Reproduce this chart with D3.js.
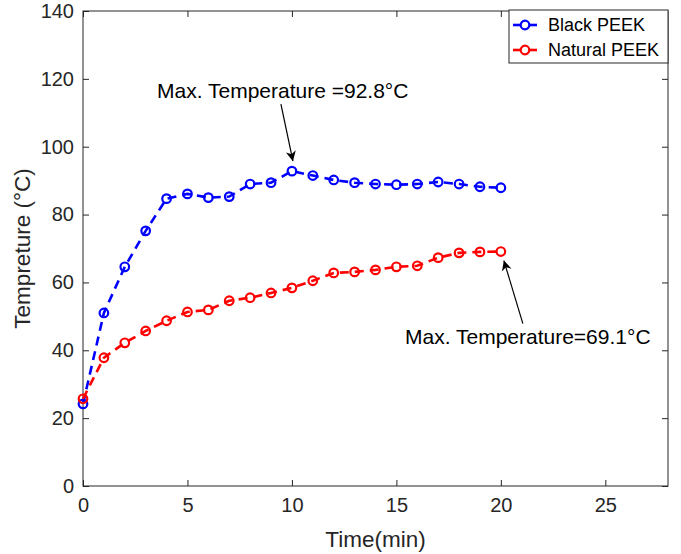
<!DOCTYPE html>
<html>
<head>
<meta charset="utf-8">
<script src="https://cdn.jsdelivr.net/npm/d3@7"></script>
<style>
  body { margin: 0; background: #fff; }
  svg { font-family: "Liberation Sans", Arial, sans-serif; }
</style>
</head>
<body>
<svg id="chart"></svg>
<script>
// Data
const time = [0, 1, 2, 3, 4, 5, 6, 7, 8, 9, 10, 11, 12, 13, 14, 15, 16, 17, 18, 19, 20];
const blackPeek = [24.2, 51.0, 64.6, 75.2, 84.7, 86.1, 85.0, 85.3, 89.0, 89.4, 92.8, 91.5, 90.2, 89.4, 89.0, 88.8, 89.0, 89.6, 89.0, 88.2, 87.9];
const naturalPeek = [25.7, 37.8, 42.2, 45.7, 48.7, 51.3, 51.9, 54.6, 55.5, 56.9, 58.4, 60.5, 62.8, 63.1, 63.7, 64.6, 64.9, 67.3, 68.7, 69.0, 69.1];
const xTicks = [0, 5, 10, 15, 20, 25];
const yTicks = [0, 20, 40, 60, 80, 100, 120, 140];
const seriesNames = ["Black PEEK", "Natural PEEK"];
const seriesColors = ["#0000ff", "#ff0000"];

// Configuration
const W = 681, H = 554;
const margin = { top: 11, right: 13, bottom: 68, left: 83 };
const width = W - margin.left - margin.right;
const height = H - margin.top - margin.bottom;
const axisColor = "#262626";

const svg = d3.select("#chart").attr("width", W).attr("height", H);

svg.append("defs").append("marker")
    .attr("id", "arrow")
    .attr("viewBox", "0 0 10 10")
    .attr("refX", 10).attr("refY", 5)
    .attr("markerWidth", 10).attr("markerHeight", 12)
    .attr("markerUnits", "userSpaceOnUse")
    .attr("orient", "auto")
    .append("path")
    .attr("d", "M0,0 L10,5 L0,10 L3,5 Z")
    .attr("fill", "#000");

const g = svg.append("g").attr("transform", `translate(${margin.left},${margin.top})`);

// Scales
const x = d3.scaleLinear().domain([0, 28]).range([0, width]);
const y = d3.scaleLinear().domain([0, 140]).range([height, 0]);

// Axes (box with inward ticks)
function styleAxis(sel) {
    sel.select(".domain").remove();
    sel.selectAll("line").attr("stroke", axisColor);
    sel.selectAll("text").attr("fill", axisColor).style("font-size", "20px");
}

g.append("g")
    .attr("transform", `translate(0,${height})`)
    .call(d3.axisBottom(x).tickValues(xTicks).tickSize(-6).tickPadding(12))
    .call(styleAxis);
g.append("g")
    .call(d3.axisTop(x).tickValues(xTicks).tickSize(-6).tickFormat(""))
    .call(styleAxis);
g.append("g")
    .call(d3.axisLeft(y).tickValues(yTicks).tickSize(-6).tickPadding(9))
    .call(styleAxis);
g.append("g")
    .attr("transform", `translate(${width},0)`)
    .call(d3.axisRight(y).tickValues(yTicks).tickSize(-6).tickFormat(""))
    .call(styleAxis);

g.append("rect")
    .attr("width", width).attr("height", height)
    .attr("fill", "none").attr("stroke", axisColor).attr("stroke-width", 1);

// Axis labels
g.append("text")
    .attr("x", x(14)).attr("y", height + 61)
    .attr("text-anchor", "middle")
    .attr("fill", axisColor)
    .style("font-size", "22.5px")
    .text("Time(min)");

g.append("text")
    .attr("transform", `translate(${-53},${height / 2}) rotate(-90)`)
    .attr("text-anchor", "middle")
    .attr("fill", axisColor)
    .style("font-size", "22.5px")
    .text("Tempreture (°C)");

// Lines
const series = [blackPeek, naturalPeek];
const line = d3.line().x((d, i) => x(time[i])).y(d => y(d));

series.forEach((vals, k) => {
    g.append("path")
        .datum(vals)
        .attr("d", line)
        .attr("fill", "none")
        .attr("stroke", seriesColors[k])
        .attr("stroke-width", 2.6)
        .attr("stroke-dasharray", "9,6");
    g.selectAll(null)
        .data(vals)
        .join("circle")
        .attr("cx", (d, i) => x(time[i]))
        .attr("cy", d => y(d))
        .attr("r", 4.3)
        .attr("fill", "none")
        .attr("stroke", seriesColors[k])
        .attr("stroke-width", 2.2);
});

// Annotations
const maxB = d3.max(blackPeek), iB = blackPeek.indexOf(maxB);
const maxN = d3.max(naturalPeek), iN = naturalPeek.indexOf(maxN);

g.append("line")
    .attr("x1", x(time[iB]) - 11).attr("y1", y(maxB) - 67)
    .attr("x2", x(time[iB]) + 1).attr("y2", y(maxB) - 10)
    .attr("stroke", "#000").attr("stroke-width", 1.2)
    .attr("marker-end", "url(#arrow)");
g.append("text")
    .attr("x", 74).attr("y", 87)
    .style("font-size", "21px")
    .attr("fill", "#000")
    .text(`Max. Temperature =${maxB}°C`);

g.append("line")
    .attr("x1", x(time[iN]) + 22).attr("y1", y(maxN) + 72)
    .attr("x2", x(time[iN]) + 3).attr("y2", y(maxN) + 9)
    .attr("stroke", "#000").attr("stroke-width", 1.2)
    .attr("marker-end", "url(#arrow)");
g.append("text")
    .attr("x", 322).attr("y", 333)
    .style("font-size", "21px")
    .attr("fill", "#000")
    .text(`Max. Temperature=${maxN}°C`);

// Legend
const legend = svg.append("g").attr("transform", "translate(509,10)");
legend.append("rect")
    .attr("width", 159).attr("height", 53)
    .attr("fill", "#fff").attr("stroke", axisColor).attr("stroke-width", 1);

seriesNames.forEach((name, k) => {
    const row = legend.append("g").attr("transform", `translate(0,${15 + k * 25})`);
    row.append("line")
        .attr("x1", 4).attr("x2", 28)
        .attr("stroke", seriesColors[k]).attr("stroke-width", 2.6);
    row.append("circle")
        .attr("cx", 16).attr("r", 4.3)
        .attr("fill", "#fff")
        .attr("stroke", seriesColors[k]).attr("stroke-width", 2.2);
    row.append("text")
        .attr("x", 39).attr("dy", "0.35em")
        .style("font-size", "18px")
        .attr("fill", "#000")
        .text(name);
});
</script>
</body>
</html>
